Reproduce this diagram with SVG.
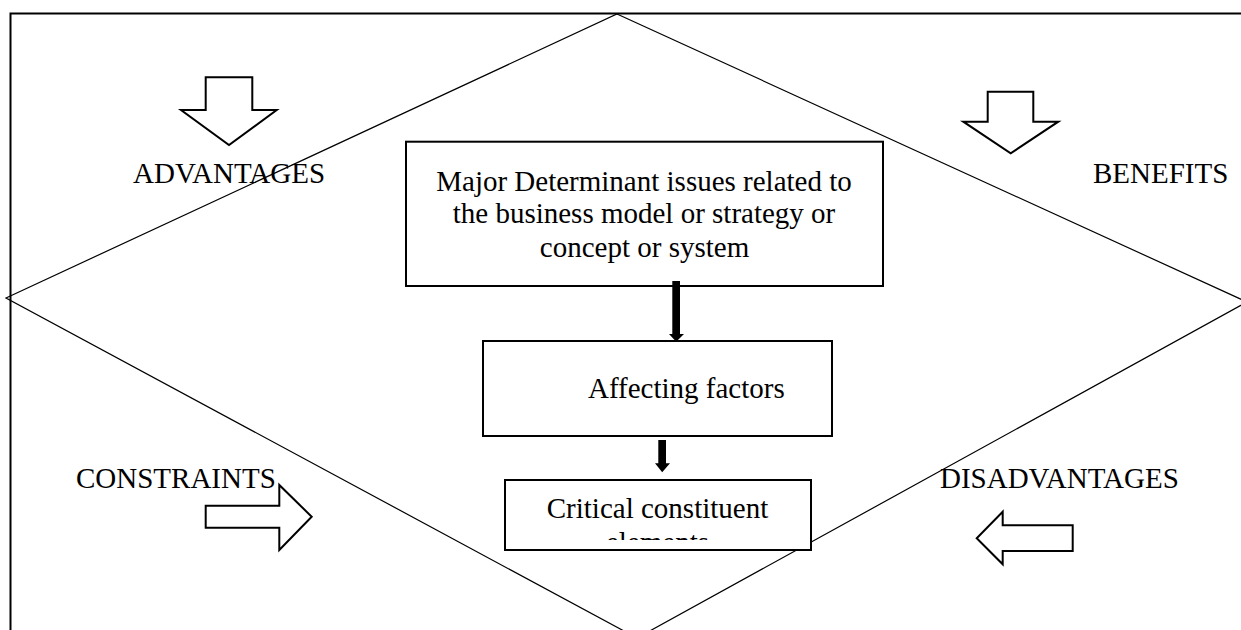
<svg xmlns="http://www.w3.org/2000/svg" width="1241" height="630" viewBox="0 0 1241 630">
  <defs>
    <style>
      .txt { font-family: "Liberation Serif", "Times New Roman", serif; font-size: 29px; fill: #000; }
      .box { fill: #fff; stroke: #000; stroke-width: 2; }
      .frame { fill: none; stroke: #000; stroke-width: 2; }
      .diamond { fill: none; stroke: #000; stroke-width: 1.2; }
      .block { fill: #fff; stroke: #000; stroke-width: 2; stroke-linejoin: miter; }
      .solid { fill: #000; stroke: none; }
    </style>
    <clipPath id="clip3">
      <rect x="505" y="480" width="306" height="60"/>
    </clipPath>
  </defs>
  <rect width="1241" height="630" fill="#fff"/>

  <g id="frame">
    <polyline class="frame" points="10.5,630 10.5,13.5 1241,13.5"/>
  </g>

  <g id="diamond">
    <polygon class="diamond" points="617,14 1247,302 637,638 6,298"/>
  </g>

  <g id="advantages">
    <polygon class="block" points="205.7,77.3 252.3,77.3 252.3,110 276.7,110 229,145 181,110 205.7,110"/>
    <text class="txt" x="133" y="183">ADVANTAGES</text>
  </g>

  <g id="benefits">
    <polygon class="block" points="987.7,91.7 1033.3,91.7 1033.3,121.7 1058.3,121.7 1010.7,153.3 963.3,121.7 987.7,121.7"/>
    <text class="txt" x="1093" y="183">BENEFITS</text>
  </g>

  <g id="constraints">
    <polygon class="block" points="205.7,505.7 279.3,505.7 279.3,485 311.7,516.7 279.3,550 279.3,527.7 205.7,527.7"/>
    <text class="txt" x="76" y="488">CONSTRAINTS</text>
  </g>

  <g id="disadvantages">
    <polygon class="block" points="1072.7,525.3 1002.7,525.3 1002.7,511.7 976.7,538.3 1002.7,564.3 1002.7,551 1072.7,551"/>
    <text class="txt" x="940" y="488">DISADVANTAGES</text>
  </g>

  <g id="major">
    <rect class="box" x="406" y="141.7" width="477" height="144.3"/>
    <text class="txt" text-anchor="middle" x="644" y="191">Major Determinant issues related to</text>
    <text class="txt" text-anchor="middle" x="644" y="223">the business model or strategy or</text>
    <text class="txt" text-anchor="middle" x="644.5" y="257">concept or system</text>
  </g>

  <g id="affecting">
    <rect class="box" x="483" y="341" width="349" height="95"/>
    <text class="txt" x="588" y="398">Affecting factors</text>
  </g>

  <g id="critical">
    <rect class="box" x="505" y="480" width="306" height="70"/>
    <text class="txt" text-anchor="middle" x="657.5" y="518">Critical constituent</text>
    <text class="txt" text-anchor="middle" x="657.5" y="552" clip-path="url(#clip3)">elements</text>
  </g>

  <g id="connectors">
    <polygon class="solid" points="672.3,281 680,281 680,334 684,334 676.2,341.7 669,334 672.3,334"/>
    <polygon class="solid" points="658.3,440 666,440 666,463.3 670,463.3 662.2,472.3 655,463.3 658.3,463.3"/>
  </g>
</svg>
